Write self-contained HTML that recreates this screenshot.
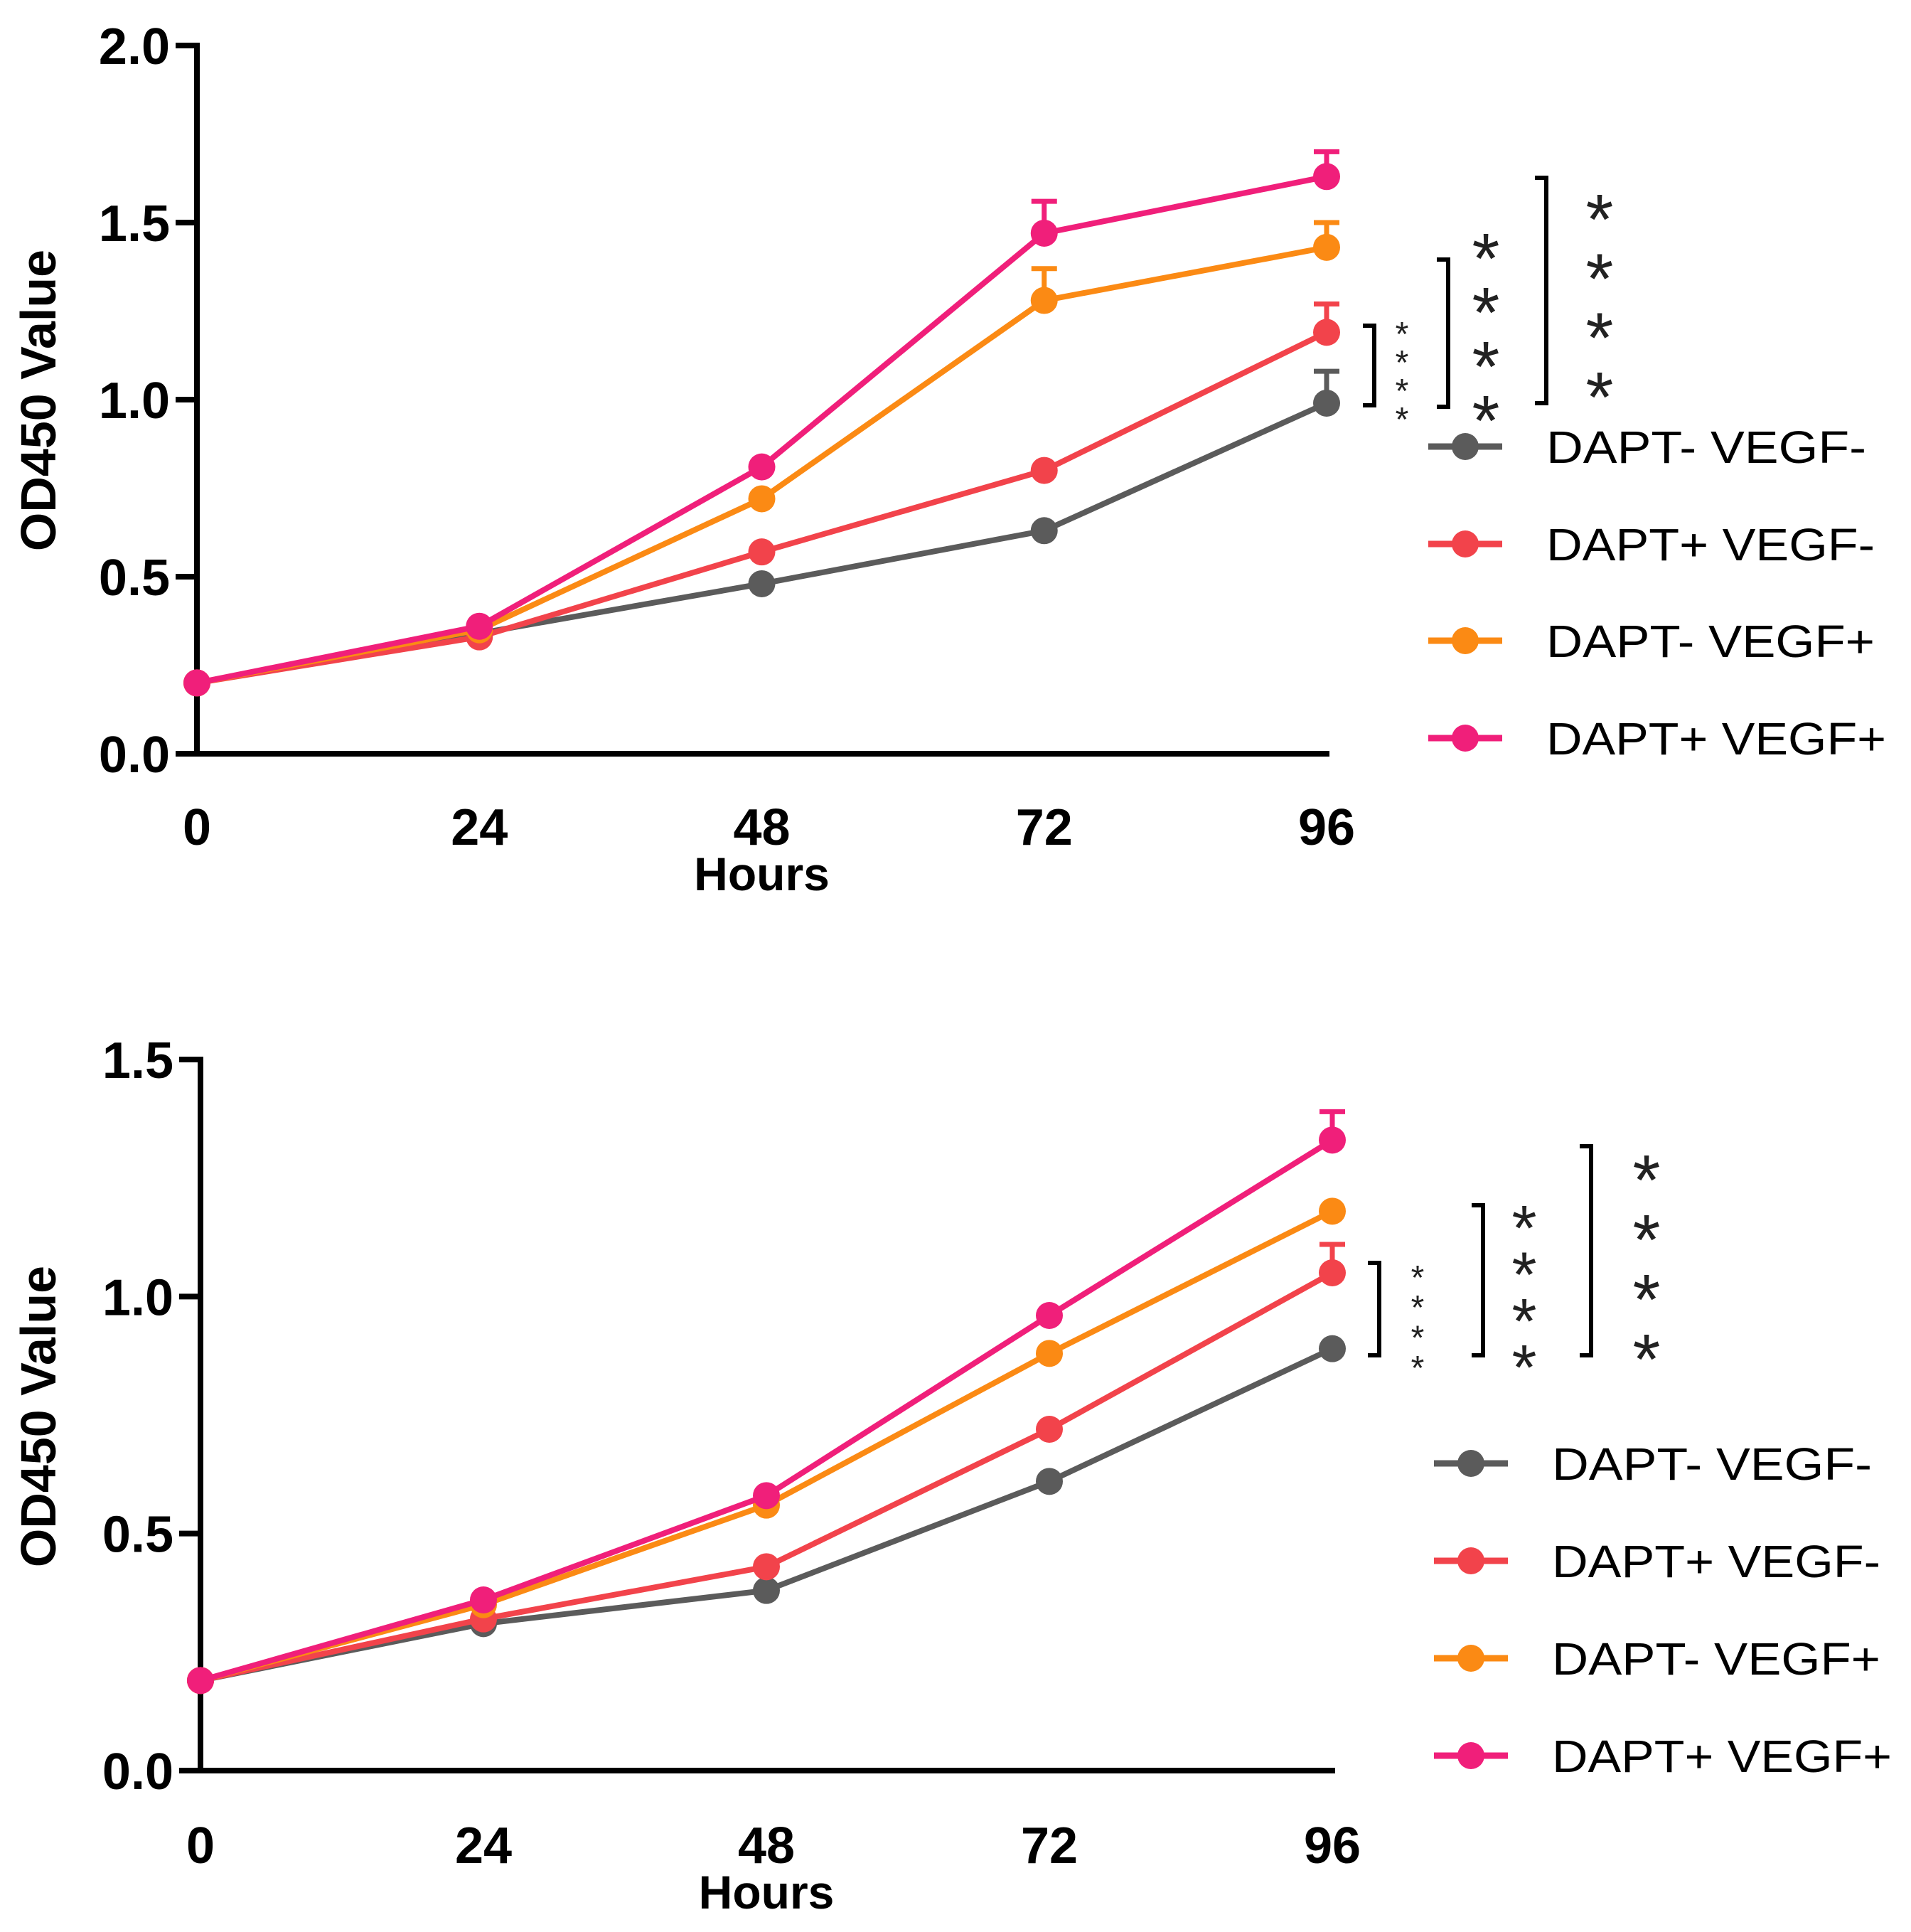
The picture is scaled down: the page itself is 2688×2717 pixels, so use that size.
<!DOCTYPE html>
<html><head><meta charset="utf-8"><style>
html,body{margin:0;padding:0;background:#fff;}
svg{display:block;font-family:"Liberation Sans",sans-serif;}
</style></head><body>
<svg id="fig" width="2688" height="2717" viewBox="0 0 2688 2717"></svg>
<script>
const hours = [0, 24, 48, 72, 96];
const seriesNames = ["DAPT- VEGF-", "DAPT+ VEGF-", "DAPT- VEGF+", "DAPT+ VEGF+"];
const seriesColors = ["#5b5b5b", "#f2434b", "#fb8a14", "#f01f7a"];
// Panel A
const topGray = [0.20, 0.34, 0.48, 0.63, 0.99];
const topRed = [0.20, 0.33, 0.57, 0.80, 1.19];
const topOrange = [0.20, 0.35, 0.72, 1.28, 1.43];
const topPink = [0.20, 0.36, 0.81, 1.47, 1.63];
const topGrayErr = [0, 0, 0, 0, 0.09];
const topRedErr = [0, 0, 0, 0, 0.08];
const topOrangeErr = [0, 0, 0, 0.09, 0.07];
const topPinkErr = [0, 0, 0, 0.09, 0.07];
const topTicks = [0.0, 0.5, 1.0, 1.5, 2.0];
// Panel B
const botGray = [0.19, 0.31, 0.38, 0.61, 0.89];
const botRed = [0.19, 0.32, 0.43, 0.72, 1.05];
const botOrange = [0.19, 0.35, 0.56, 0.88, 1.18];
const botPink = [0.19, 0.36, 0.58, 0.96, 1.33];
const botGrayErr = [0, 0, 0, 0, 0];
const botRedErr = [0, 0, 0, 0, 0.06];
const botOrangeErr = [0, 0, 0, 0, 0];
const botPinkErr = [0, 0, 0, 0, 0.06];
const botTicks = [0.0, 0.5, 1.0, 1.5];

const NS = "http://www.w3.org/2000/svg";
const svg = document.getElementById("fig");
function mk(tag, attrs, parent) {
  const e = document.createElementNS(NS, tag);
  for (const k in attrs) e.setAttribute(k, attrs[k]);
  (parent || svg).appendChild(e);
  return e;
}

function panel(cfg) {
  const g = mk("g", {});
  
  
  const xs = h => cfg.x0 + (h - hours[0]) / (hours[hours.length - 1] - hours[0]) * (cfg.x1 - cfg.x0);
  const ys = v => cfg.y0 - v / cfg.ymax * (cfg.y0 - cfg.yTop);
  const ya = mk("line", {x1: cfg.x0, y1: ys(cfg.ymax) - 4, x2: cfg.x0, y2: cfg.y0, stroke: "#000", "stroke-width": 8}, g);
  
  
  const xa = mk("line", {x1: cfg.x0 - 30, y1: cfg.y0, x2: cfg.x1 + 4, y2: cfg.y0, stroke: "#000", "stroke-width": 8}, g);
  
  
  cfg.ticks.forEach(t => {
    const y = ys(t);
    const tl = mk("line", {x1: cfg.x0 - 30, y1: y, x2: cfg.x0, y2: y, stroke: "#000", "stroke-width": 8}, g);
    
    
    const tx = mk("text", {x: cfg.x0 - 38, y: y + 26, "text-anchor": "end", "font-size": 72, "font-weight": "bold"}, g);
    tx.textContent = t.toFixed(1);
    
    
  });
  hours.forEach(h => {
    const tx = mk("text", {x: xs(h), y: cfg.xLabelY, "text-anchor": "middle", "font-size": 72, "font-weight": "bold"}, g);
    tx.textContent = h;
    
    
  });
  const xt = mk("text", {x: xs(48), y: cfg.xTitleY, "text-anchor": "middle", "font-size": 66, "font-weight": "bold"}, g);
  xt.textContent = "Hours";
  
  
  const yt = mk("text", {x: 0, y: 0, "text-anchor": "middle", "font-size": 70, "font-weight": "bold", transform: `translate(78,${cfg.yTitleY}) rotate(-90)`}, g);
  yt.textContent = "OD450 Value";
  
  

  cfg.series.forEach((vals, i) => {
    const col = seriesColors[i];
    const errs = cfg.errs[i];
    const sg = mk("g", {}, g);
    
    
    vals.forEach((v, j) => {
      if (errs[j] > 0) {
        const yE = ys(v + errs[j]);
        mk("line", {x1: xs(hours[j]), y1: ys(v), x2: xs(hours[j]), y2: yE, stroke: col, "stroke-width": 7}, sg);
        mk("line", {x1: xs(hours[j]) - 18, y1: yE, x2: xs(hours[j]) + 18, y2: yE, stroke: col, "stroke-width": 7}, sg);
      }
    });
    const pts = vals.map((v, j) => xs(hours[j]) + "," + ys(v)).join(" ");
    const pl = mk("polyline", {points: pts, fill: "none", stroke: col, "stroke-width": 8, "stroke-linejoin": "round"}, sg);
    
    
    vals.forEach((v, j) => {
      const c = mk("circle", {cx: xs(hours[j]), cy: ys(v), r: 19, fill: col}, sg);
      
      
    });
  });
  seriesNames.forEach((n, i) => {
    const y = cfg.legY[i];
    const lg = mk("g", {}, g);
    
    
    mk("line", {x1: cfg.legX, y1: y, x2: cfg.legX + 104, y2: y, stroke: seriesColors[i], "stroke-width": 9}, lg);
    mk("circle", {cx: cfg.legX + 52, cy: y, r: 19, fill: seriesColors[i]}, lg);
    const t = mk("text", {x: cfg.legX + 166, y: y + 23, "font-size": 64, fill: "#000", textLength: cfg.legW[i], lengthAdjust: "spacingAndGlyphs"}, lg);
    t.textContent = n;
  });
  cfg.brackets.forEach(b => {
    const bg = mk("g", {}, g);
    
    
    mk("polyline", {points: `${b.x - 16},${b.y1} ${b.x},${b.y1} ${b.x},${b.y2} ${b.x - 16},${b.y2}`, fill: "none", stroke: "#000", "stroke-width": 6}, bg);
    const n = 4;
    for (let k = 0; k < n; k++) {
      const cy = b.s1 + (b.s2 - b.s1) * k / (n - 1);
      const t = mk("text", {x: b.sx, y: cy + b.fs * 0.58, "text-anchor": "middle", "font-size": b.fs, fill: "#222"}, bg);
      t.textContent = "*";
    }
  });
}

panel({
  name: "panel-a", x0: 277, x1: 1866, y0: 1060, yTop: 64, ymax: 2.0, ticks: topTicks,
  xLabelY: 1188, xTitleY: 1252, yTitleY: 563,
  series: [topGray, topRed, topOrange, topPink],
  errs: [topGrayErr, topRedErr, topOrangeErr, topPinkErr],
  legX: 2009, legY: [628, 765, 901, 1038], legW: [450, 462, 462, 478],
  brackets: [
    {x: 1933, y1: 458, y2: 570, sx: 1972, s1: 458, s2: 578, fs: 48},
    {x: 2037, y1: 365, y2: 572, sx: 2090, s1: 340, s2: 568, fs: 100},
    {x: 2175, y1: 250, y2: 567, sx: 2250, s1: 285, s2: 535, fs: 100}
  ]
});
panel({
  name: "panel-b", x0: 282, x1: 1874, y0: 2490, yTop: 1490, ymax: 1.5, ticks: botTicks,
  xLabelY: 2620, xTitleY: 2684, yTitleY: 1992,
  series: [botGray, botRed, botOrange, botPink],
  errs: [botGrayErr, botRedErr, botOrangeErr, botPinkErr],
  legX: 2017, legY: [2058, 2195, 2332, 2469], legW: [450, 462, 462, 478],
  brackets: [
    {x: 1940, y1: 1776, y2: 1906, sx: 1994, s1: 1785, s2: 1912, fs: 48},
    {x: 2086, y1: 1695, y2: 1906, sx: 2144, s1: 1706, s2: 1902, fs: 90},
    {x: 2238, y1: 1612, y2: 1906, sx: 2316, s1: 1636, s2: 1888, fs: 100}
  ]
});
</script>
</body></html>
